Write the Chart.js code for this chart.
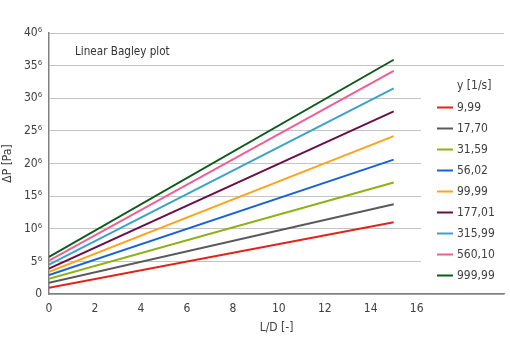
<!DOCTYPE html>
<html><head><meta charset="utf-8">
<script src="https://cdn.jsdelivr.net/npm/chart.js@4"></script>
<style>html,body{margin:0;padding:0;background:#fff}#wrap{width:510px;height:338px}</style>
</head><body><div id="wrap"><canvas id="c" width="510" height="338"></canvas></div>
<script>
const shearRates = ['9,99','17,70','31,59','56,02','99,99','177,01','315,99','560,10','999,99'];
const colors = ['#e2231a','#5a5a5a','#8cb215','#1662d4','#ffa31a','#6c0e46','#3ba3c7','#ef5f93','#0c5a1c'];
const ldValues = [0, 15];
const dpAt0 = [0.97e6, 1.73e6, 2.35e6, 2.9e6, 3.4e6, 3.9e6, 4.5e6, 5.1e6, 5.7e6];
const dpAt15 = [11.0e6, 13.75e6, 17.1e6, 20.6e6, 24.2e6, 28.0e6, 31.5e6, 34.2e6, 35.9e6];
const xTicks = [0, 2, 4, 6, 8, 10, 12, 14, 16];
const yTicks = [0, 5e6, 10e6, 15e6, 20e6, 25e6, 30e6, 35e6, 40e6];
const chartNote = 'Linear Bagley plot';
const legendTitle = 'y [1/s]';

const FONT = '"DejaVu Sans Condensed", "DejaVu Sans", sans-serif';
Chart.defaults.font.family = FONT;
Chart.defaults.font.size = 12;
Chart.defaults.color = '#404040';

const datasets = shearRates.map((lab, i) => ({
  label: lab,
  data: ldValues.map((x, k) => ({x: x, y: k === 0 ? dpAt0[i] : dpAt15[i]})),
  borderColor: colors[i],
  backgroundColor: colors[i],
  borderWidth: 2,
  pointRadius: 0,
  tension: 0
}));

const overlay = {
  id: 'overlay',
  afterDatasetsDraw(chart) {
    const ctx = chart.ctx, a = chart.chartArea;
    ctx.save();
    ctx.font = '11.6px ' + FONT;
    ctx.fillStyle = '#333';
    ctx.textBaseline = 'middle';
    ctx.textAlign = 'left';
    ctx.fillText(chartNote, 75, 52);
    ctx.font = '12px ' + FONT;
    // legend box
    const lx = 421, ly = 67;
    ctx.fillStyle = '#fff';
    ctx.fillRect(lx, ly, a.right - lx, a.bottom - 1 - ly);
    ctx.fillStyle = '#404040';
    ctx.fillText(legendTitle, 457, 86);
    chart.data.datasets.forEach((ds, i) => {
      const y = 107.5 + i * 21;
      ctx.strokeStyle = ds.borderColor;
      ctx.lineWidth = 2;
      ctx.beginPath(); ctx.moveTo(437, y); ctx.lineTo(453, y); ctx.stroke();
      ctx.fillStyle = '#404040';
      ctx.fillText(ds.label, 457, y);
    });
    ctx.restore();
  }
};

new Chart(document.getElementById('c'), {
  type: 'line',
  data: { datasets },
  plugins: [overlay],
  options: {
    responsive: false,
    animation: false,
    layout: { padding: { top: 33, right: 6, left: 1, bottom: 0 } },
    plugins: { legend: { display: false }, tooltip: { enabled: false } },
    scales: {
      x: {
        type: 'linear', min: 0, max: 19.8,
        afterBuildTicks: s => { s.ticks = xTicks.map(v => ({value: v})); },
        afterFit: s => { s.height = 44; },
        grid: { display: false, drawTicks: false },
        border: { color: '#808080', width: 1.5 },
        ticks: { padding: 8, color: '#404040', font: {size: 12}, maxRotation: 0 },
        title: { display: true, text: 'L/D [-]', color: '#404040', font: {size: 12}, padding: {top: 2, bottom: 3} }
      },
      y: {
        type: 'linear', min: 0, max: 40e6,
        afterBuildTicks: s => { s.ticks = yTicks.map(v => ({value: v})); },
        afterFit: s => { s.width = 48; },
        grid: { color: '#c4c4c4', lineWidth: 1, drawTicks: false },
        border: { color: '#808080', width: 1.5 },
        ticks: { padding: 7, color: '#404040', font: {size: 12},
          callback: v => v === 0 ? '0' : (v / 1e6) + '⁶' },
        title: { display: true, text: 'ΔP [Pa]', color: '#404040', font: {size: 12}, padding: {top: 0, bottom: 0} }
      }
    }
  }
});
</script></body></html>
